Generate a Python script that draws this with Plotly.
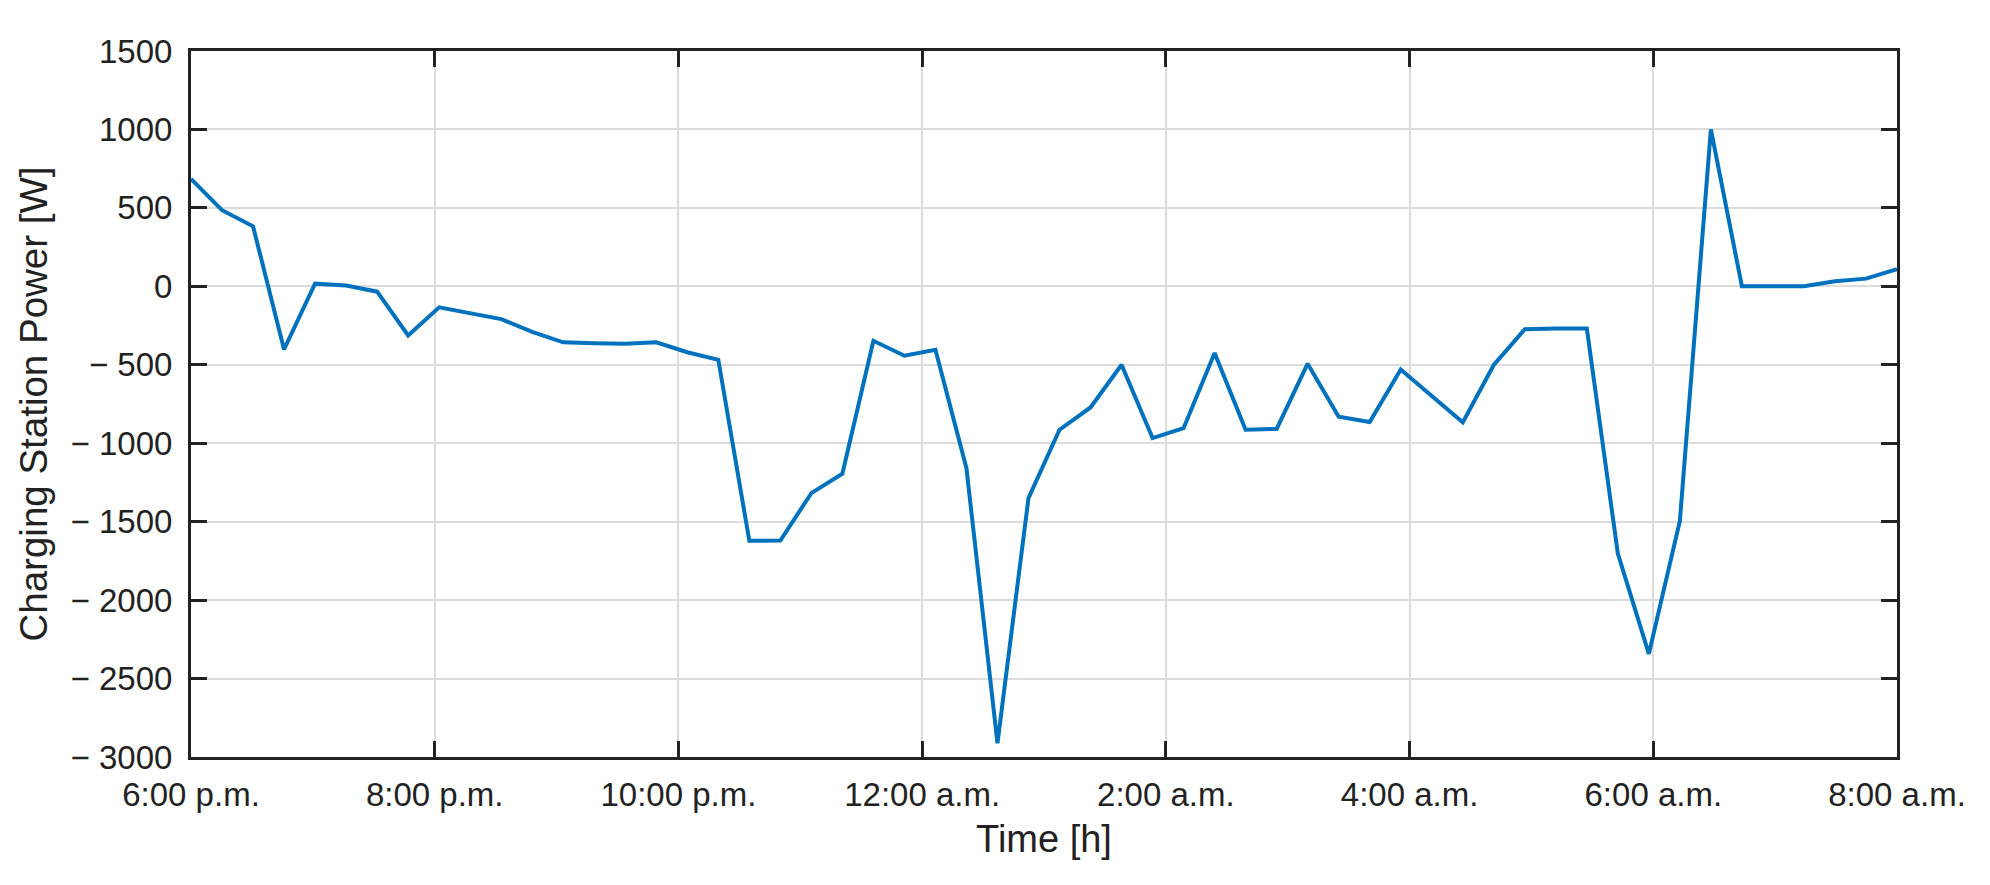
import plotly.graph_objects as go

# 56 samples evenly spread from 6:00 p.m. (18 h) to 8:00 a.m. (32 h)
n_samples = 56
time_h = [18 + 14 * i / (n_samples - 1) for i in range(n_samples)]

power_w = [
    685, 485, 383, -402, 17, 5, -34, -313, -134, -170,
    -209, -290, -357, -362, -366, -357, -420, -468, -1622, -1620,
    -1318, -1195, -347, -442, -404, -1159, -2913, -1350, -914, -772,
    -500, -967, -904, -425, -914, -909, -493, -831, -865, -530,
    -700, -867, -501, -274, -269, -269, -1703, -2343, -1495, 1000,
    0, 0, 0, 32, 49, 109,
]

x_tickvals = [18, 20, 22, 24, 26, 28, 30, 32]
x_ticktext = ["6:00 p.m.", "8:00 p.m.", "10:00 p.m.", "12:00 a.m.",
              "2:00 a.m.", "4:00 a.m.", "6:00 a.m.", "8:00 a.m."]
y_tickvals = [-3000, -2500, -2000, -1500, -1000, -500, 0, 500, 1000, 1500]
y_ticktext = ["\u2212 3000", "\u2212 2500", "\u2212 2000", "\u2212 1500",
              "\u2212 1000", "\u2212 500", "0", "500", "1000", "1500"]

ink = "#222222"
font_family = "Liberation Sans, Arial, sans-serif"

fig = go.Figure()
fig.add_trace(go.Scatter(
    x=time_h, y=power_w, mode="lines",
    line=dict(color="#0072BD", width=4),
    showlegend=False,
))

fig.update_layout(
    width=1990, height=885,
    margin=dict(l=183, r=101, t=43, b=136),
    paper_bgcolor="white", plot_bgcolor="white",
    font=dict(family=font_family, color=ink, size=33),
)
fig.update_xaxes(
    range=[18, 32], tickvals=x_tickvals, ticktext=x_ticktext,
    showline=True, linecolor=ink, linewidth=3, mirror="ticks",
    ticks="inside", ticklen=16, tickwidth=3, tickcolor=ink,
    showgrid=True, gridcolor="#dcdcdc", gridwidth=1.5,
    zeroline=False, tickfont=dict(size=33, color=ink),
    ticklabelstandoff=6,
    title=dict(text="Time [h]", font=dict(size=38, color=ink), standoff=14),
)
fig.update_yaxes(
    range=[-3000, 1500], tickvals=y_tickvals, ticktext=y_ticktext,
    showline=True, linecolor=ink, linewidth=3, mirror="ticks",
    ticks="inside", ticklen=16, tickwidth=3, tickcolor=ink,
    showgrid=True, gridcolor="#dcdcdc", gridwidth=1.5,
    zeroline=False, tickfont=dict(size=33, color=ink),
    ticklabelstandoff=9,
    title=dict(text="Charging Station Power [W]", font=dict(size=38.5, color=ink), standoff=12),
)

fig.write_html("out.html")
